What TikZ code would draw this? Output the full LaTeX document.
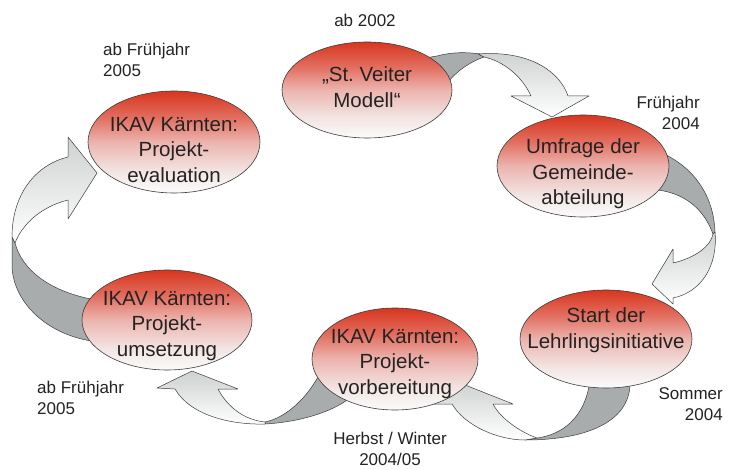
\documentclass[tikz,border=0pt]{standalone}
\usepackage{fontspec}
\setmainfont{Liberation Sans}
\usetikzlibrary{shapes.geometric}
\frenchspacing
\definecolor{redA}{RGB}{216,54,30}
\definecolor{redB}{RGB}{226,110,96}
\definecolor{redC}{RGB}{236,180,174}
\definecolor{redD}{RGB}{242,228,226}
\definecolor{redE}{RGB}{251,251,251}
\definecolor{darkband}{RGB}{168,172,172}
\definecolor{lightband}{RGB}{206,209,209}
\definecolor{edgec}{RGB}{60,60,60}
\definecolor{txt}{RGB}{35,35,35}
\pgfdeclareverticalshading{redfade}{100bp}{color(0bp)=(redE); color(25bp)=(redE); color(36bp)=(redD); color(50bp)=(redC); color(62bp)=(redB); color(75bp)=(redA); color(100bp)=(redA)}
\tikzset{
  bubble/.style={ellipse, draw=edgec, line width=0.6pt, shading=redfade, inner sep=0pt},
  btext/.style={font=\fontsize{20.5}{25.5}\selectfont, text=txt, align=center, inner sep=0pt},
  ltext/.style={font=\fontsize{17}{21}\selectfont, text=txt, inner sep=0pt},
  backband/.style={fill=darkband, draw=edgec, line width=0.5pt, line join=round},
  frontband/.style={top color=lightband, bottom color=white, draw=edgec, line width=0.5pt, line join=round}
}
\begin{document}
\begin{tikzpicture}[x=1pt,y=-1pt]
\useasboundingbox[fill=white] (0,0) rectangle (744,470);

% arrow 1: Veiter -> Umfrage
\path[backband] (425,58) -- (437,56) .. controls (452,52) and (466,52) .. (480,54) -- (484,57) .. controls (470,62) and (458,70) .. (448,82) -- (435,80) -- cycle;
\path[frontband] (478,54) .. controls (530,50) and (560,72) .. (568,96) -- (589,96) -- (552,117) -- (511,96) -- (531,96) .. controls (522,76) and (503,61) .. (484,57) -- cycle;

% arrow 2: Umfrage -> Start
\path[backband] (660,150) -- (668,156) .. controls (698,172) and (714,200) .. (715,232) -- (713,234) .. controls (705,212) and (688,194) .. (658,190) -- (650,180) -- cycle;
\path[frontband] (715,232) .. controls (718,265) and (702,292) .. (673,298) -- (673,304) -- (652,284) -- (673,249) -- (673,263) .. controls (695,258) and (711,246) .. (713,234) -- cycle;

% arrow 3: Start -> Vorbereitung
\path[backband] (590,380) .. controls (585,420) and (560,435) .. (537,438) -- (525,440) .. controls (590,440) and (632,420) .. (630,380) -- cycle;
\path[frontband] (525,440) .. controls (498,440) and (465,426) .. (452,404) -- (432,404) -- (455,381) -- (513,404) -- (493,404) .. controls (500,418) and (520,432) .. (537,438) -- cycle;

% arrow 4: Vorbereitung -> Umsetzung
\path[backband] (265,424) .. controls (300,422) and (332,412) .. (350,398) -- (340,385) -- (318,377) .. controls (305,400) and (285,418) .. (265,422) -- cycle;
\path[frontband] (265,424) .. controls (230,425) and (190,415) .. (175,389) -- (157,388) -- (192,371) -- (238,389) -- (218,389) .. controls (228,408) and (245,420) .. (265,422) -- cycle;

% arrow 5: Umsetzung -> Evaluation
\path[backband] (12,237) -- (12,267) .. controls (14,305) and (50,335) .. (92,341) -- (96,300) .. controls (50,292) and (22,270) .. (15,243) -- cycle;
\path[frontband] (12,237) .. controls (12,195) and (35,165) .. (68,157) -- (68,137) -- (97,173) -- (68,219) -- (68,200) .. controls (40,207) and (22,225) .. (15,243) -- cycle;

% ellipses
\node[bubble, minimum width=170pt, minimum height=96pt] (e1) at (367,90) {};
\node[bubble, minimum width=172pt, minimum height=102pt] (e2) at (583,166) {};
\node[bubble, minimum width=172pt, minimum height=98pt] (e3) at (606,339) {};
\node[bubble, minimum width=166pt, minimum height=102pt] (e4) at (395,359) {};
\node[bubble, minimum width=170pt, minimum height=100pt] (e5) at (167,320) {};
\node[bubble, minimum width=172pt, minimum height=102pt] (e6) at (174,142) {};

% ellipse texts
\node[btext] (t1) at (367,87) {„St. Veiter\\Modell“};
\node[btext] (t2) at (583,174) {Umfrage der\\Gemeinde-\\abteilung};
\node[btext] (t3) at (606,330) {Start der\\Lehrlingsinitiative};
\node[btext] (t4) at (395,364) {IKAV Kärnten:\\Projekt-\\vorbereitung};
\node[btext] (t5) at (167,326) {IKAV Kärnten:\\Projekt-\\umsetzung};
\node[btext] (t6) at (174,150) {IKAV Kärnten:\\Projekt-\\evaluation};

% date labels
\node[ltext] (l1) at (365,20) {ab 2002};
\node[ltext, align=left, anchor=west] (l2) at (103,60) {ab Frühjahr\\2005};
\node[ltext, align=right, anchor=east] (l3) at (700,112.5) {Frühjahr\\2004};
\node[ltext, align=right, anchor=east] (l4) at (723,404) {Sommer\\2004};
\node[ltext, align=center] (l5) at (390,449) {Herbst / Winter\\2004/05};
\node[ltext, align=left, anchor=west] (l6) at (37,398) {ab Frühjahr\\2005};
\end{tikzpicture}
\end{document}
